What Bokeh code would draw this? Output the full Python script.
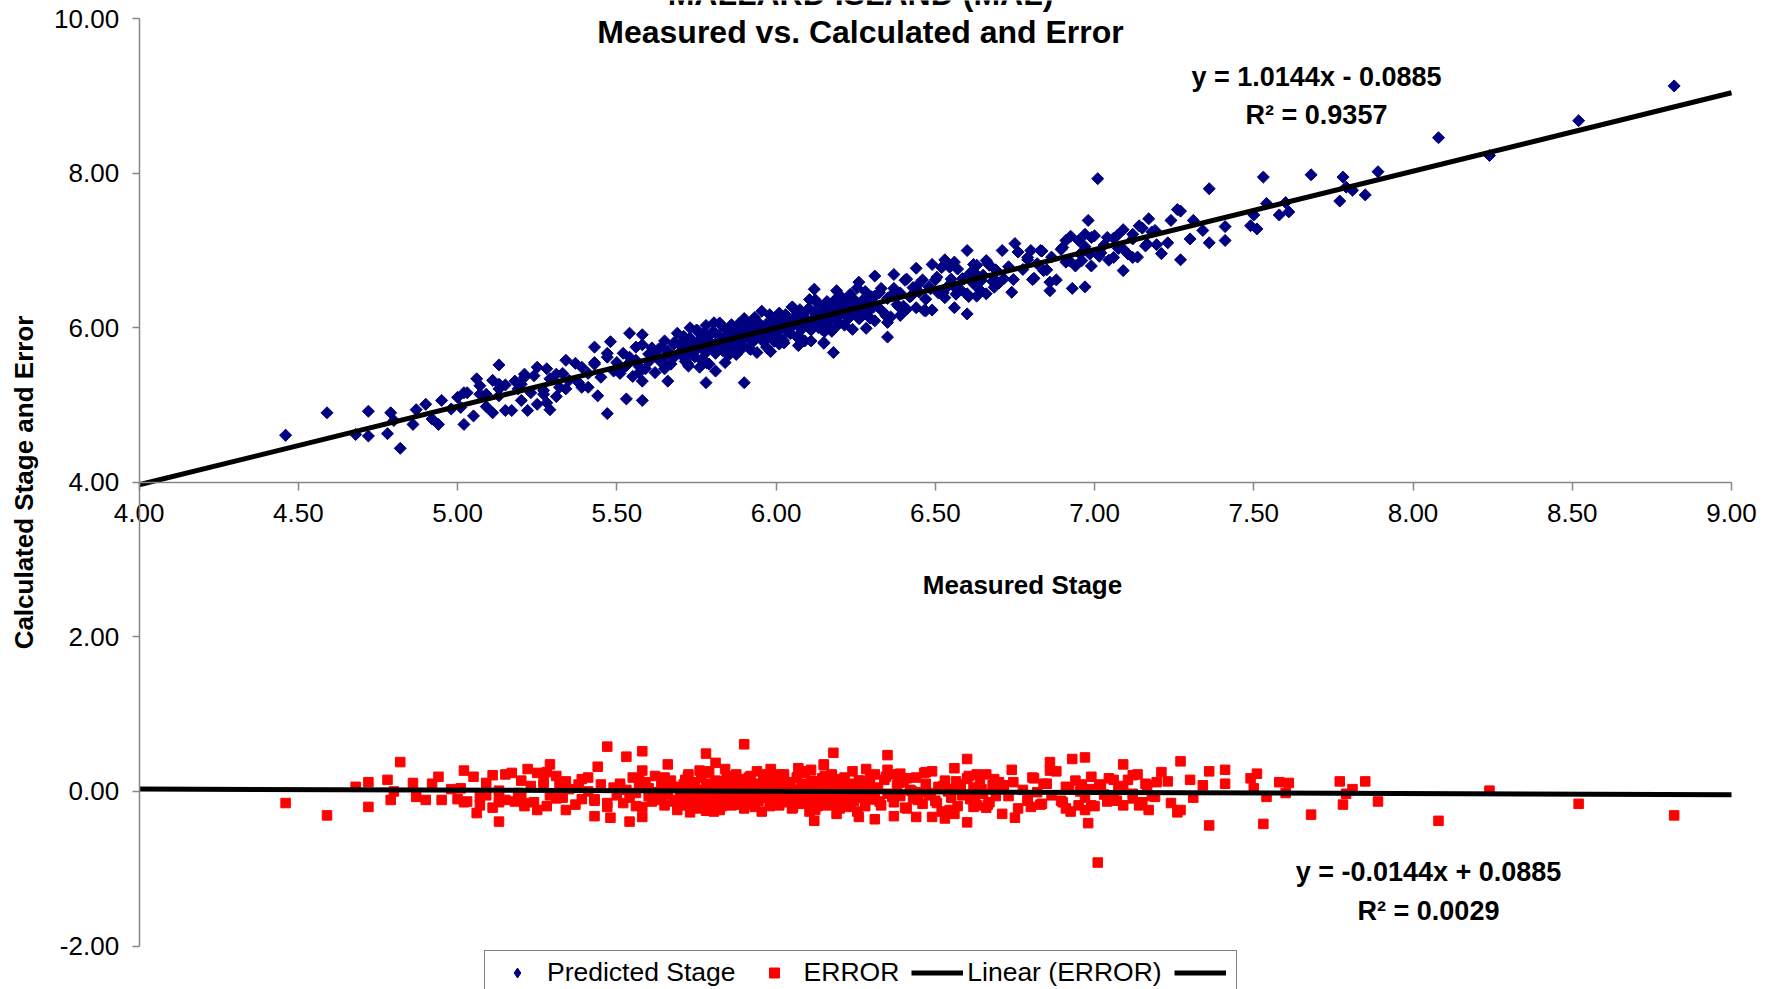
from bokeh.plotting import figure
from bokeh.models import (Range1d, FixedTicker, NumeralTickFormatter, Label,
                          Legend, LegendItem)
from bokeh.embed import file_html
from bokeh.resources import INLINE

# ---------------- data ----------------
TITLE_LINES = ["MALLARD ISLAND (MAL)", "Measured vs. Calculated and Error"]
X_LABEL = "Measured Stage"
Y_LABEL = "Calculated Stage and Error"
SERIES_NAMES = ["Predicted Stage", "ERROR", "Linear (ERROR)", " "]
X_TICKS = [4.0, 4.5, 5.0, 5.5, 6.0, 6.5, 7.0, 7.5, 8.0, 8.5, 9.0]
Y_TICKS = [-2.0, 0.0, 2.0, 4.0, 6.0, 8.0, 10.0]
TREND_PRED = [1.0144, -0.0885]   # slope, intercept (shown on chart)
TREND_ERR = [-0.0144, 0.0885]
EQ_PRED = ["y = 1.0144x - 0.0885", "R\u00b2 = 0.9357"]
EQ_ERR = ["y = -0.0144x + 0.0885", "R\u00b2 = 0.0029"]

# (measured stage, predicted stage) pairs
STAGE_PAIRS = [
    (4.46, 4.61), (4.59, 4.90), (4.72, 4.92), (4.68, 4.62), (4.72, 4.60), (4.78, 4.63),
    (4.79, 4.90), (4.82, 4.44), (4.80, 4.80), (4.86, 4.75), (4.87, 4.94), (4.90, 5.01),
    (4.92, 4.82), (4.94, 4.75), (4.95, 5.06), (4.98, 4.95), (5.00, 5.10), (5.02, 5.16),
    (5.02, 4.75), (5.06, 5.34), (5.07, 5.25), (5.09, 5.14), (5.11, 4.90), (5.13, 5.52),
    (5.13, 5.27), (5.15, 4.93), (5.13, 5.21), (5.18, 5.31), (5.20, 5.27), (5.21, 5.40),
    (5.20, 5.06), (5.22, 4.93), (5.24, 5.38), (5.25, 5.01), (5.27, 5.19), (5.28, 5.47),
    (5.28, 5.03), (5.29, 4.94), (5.31, 5.40), (5.32, 5.23), (5.34, 5.58), (5.34, 5.21),
    (5.38, 5.29), (5.39, 5.49), (5.41, 5.23), (5.43, 5.75), (5.43, 5.53), (5.44, 5.12),
    (5.47, 4.89), (5.48, 5.82), (5.47, 5.62), (5.51, 5.44), (5.53, 5.08), (5.54, 5.93),
    (5.58, 5.91), (5.56, 5.75), (5.58, 5.06), (5.57, 5.42), (5.58, 5.31), (5.64, 5.75),
    (5.66, 5.31), (5.65, 5.47), (5.68, 5.81), (5.71, 5.62), (5.73, 6.00), (5.76, 5.49),
    (5.78, 5.29), (5.78, 6.03), (5.81, 5.44), (5.84, 5.55), (5.90, 5.29), (5.87, 5.70),
    (5.92, 5.72), (5.97, 5.75), (6.01, 5.79), (6.07, 5.77), (6.11, 5.83), (6.15, 5.81),
    # 5.0 - 5.5 band
    (5.01, 4.97), (5.03, 5.16), (5.05, 4.86), (5.07, 5.14), (5.09, 4.98), (5.11, 5.32),
    (5.13, 5.12), (5.15, 5.26), (5.17, 4.93), (5.19, 5.21), (5.21, 5.36), (5.23, 5.16),
    (5.25, 5.49), (5.27, 5.14), (5.29, 5.34), (5.31, 5.11), (5.33, 5.41), (5.35, 5.32),
    (5.37, 5.54), (5.39, 5.23), (5.41, 5.41), (5.43, 5.55), (5.45, 5.36), (5.47, 5.67),
    (5.49, 5.44),
    # 5.5 - 5.7 band
    (5.50, 5.55), (5.51, 5.41), (5.52, 5.67), (5.53, 5.51), (5.54, 5.62), (5.55, 5.37),
    (5.56, 5.58), (5.57, 5.50), (5.58, 5.78), (5.59, 5.47), (5.60, 5.66), (5.60, 5.56),
    (5.61, 5.74), (5.62, 5.42), (5.62, 5.63), (5.63, 5.72), (5.64, 5.55), (5.65, 5.83),
    (5.65, 5.62), (5.66, 5.70), (5.67, 5.53), (5.68, 5.79), (5.68, 5.62), (5.69, 5.93),
    (5.70, 5.69), (5.70, 5.77),
    # 5.7 - 6.3 dense band
    (5.700, 5.800), (5.705, 5.655), (5.710, 5.890), (5.715, 5.565), (5.720, 5.750),
    (5.725, 5.505), (5.730, 5.870), (5.735, 5.655), (5.740, 5.800), (5.745, 5.625),
    (5.750, 5.970), (5.755, 5.735), (5.760, 5.850), (5.765, 5.585), (5.770, 5.780),
    (5.775, 5.935), (5.780, 5.680), (5.785, 5.835), (5.790, 5.530), (5.795, 5.915),
    (5.800, 5.740), (5.805, 6.065), (5.810, 5.670), (5.815, 5.815), (5.820, 5.900),
    (5.825, 5.795), (5.830, 6.020), (5.835, 5.745), (5.840, 5.880), (5.845, 5.675),
    (5.850, 5.950), (5.855, 5.805), (5.860, 6.040), (5.865, 5.715), (5.870, 5.900),
    (5.875, 5.655), (5.880, 6.020), (5.885, 5.805), (5.890, 5.950), (5.895, 5.775),
    (5.900, 6.120), (5.905, 5.885), (5.910, 6.000), (5.915, 5.735), (5.920, 5.930),
    (5.925, 6.085), (5.930, 5.830), (5.935, 5.985), (5.940, 5.680), (5.945, 6.065),
    (5.950, 5.890), (5.955, 6.215), (5.960, 5.820), (5.965, 5.965), (5.970, 6.050),
    (5.975, 5.945), (5.980, 6.170), (5.985, 5.895), (5.990, 6.030), (5.995, 5.825),
    (6.000, 6.100), (6.005, 5.955), (6.010, 6.190), (6.015, 5.865), (6.020, 6.050),
    (6.025, 5.805), (6.030, 6.170), (6.035, 5.955), (6.040, 6.100), (6.045, 5.925),
    (6.050, 6.270), (6.055, 6.035), (6.060, 6.150), (6.065, 5.885), (6.070, 6.080),
    (6.075, 6.235), (6.080, 5.980), (6.085, 6.135), (6.090, 5.830), (6.095, 6.215),
    (6.100, 6.040), (6.105, 6.365), (6.110, 5.970), (6.115, 6.115), (6.120, 6.200),
    (6.125, 6.095), (6.130, 6.320), (6.135, 6.045), (6.140, 6.180), (6.145, 5.975),
    (6.150, 6.250), (6.155, 6.105), (6.160, 6.340), (6.165, 6.015), (6.170, 6.200),
    (6.175, 5.955), (6.180, 6.320), (6.185, 6.105), (6.190, 6.250), (6.195, 6.075),
    (6.200, 6.420), (6.205, 6.185), (6.210, 6.300), (6.215, 6.035), (6.220, 6.230),
    (6.225, 6.385), (6.230, 6.130), (6.235, 6.285), (6.240, 5.980), (6.245, 6.365),
    (6.250, 6.190), (6.255, 6.515), (6.260, 6.120), (6.265, 6.265), (6.270, 6.350),
    (6.275, 6.245), (6.280, 6.470), (6.285, 6.195), (6.290, 6.330), (6.295, 6.125),
    (6.300, 6.400),
    (5.703, 5.663), (5.713, 5.843), (5.723, 5.533), (5.733, 5.803), (5.743, 5.633),
    (5.753, 5.963), (5.763, 5.753), (5.773, 5.883), (5.783, 5.543), (5.793, 5.813),
    (5.803, 5.953), (5.813, 5.743), (5.823, 6.063), (5.833, 5.703), (5.843, 5.893),
    (5.853, 5.653), (5.863, 5.943), (5.873, 5.843), (5.883, 6.053), (5.893, 5.733),
    (5.903, 5.903), (5.913, 6.033), (5.923, 5.833), (5.933, 6.133), (5.943, 5.893),
    (5.953, 6.023), (5.963, 5.823), (5.973, 6.003), (5.983, 5.693), (5.993, 6.093),
    (6.003, 5.963), (6.013, 6.143), (6.023, 5.833), (6.033, 6.103), (6.043, 5.933),
    (6.053, 6.263), (6.063, 6.053), (6.073, 6.183), (6.083, 5.843), (6.093, 6.113),
    (6.103, 6.253), (6.113, 6.043), (6.123, 6.363), (6.133, 6.003), (6.143, 6.193),
    (6.153, 5.953), (6.163, 6.243), (6.173, 6.143), (6.183, 6.353), (6.193, 6.033),
    (6.203, 6.203), (6.213, 6.333), (6.223, 6.133), (6.233, 6.433), (6.243, 6.193),
    (6.253, 6.323), (6.263, 6.123), (6.273, 6.303), (6.283, 5.993), (6.293, 6.393),
    # 6.3 - 6.7 band
    (6.31, 6.41), (6.32, 6.27), (6.33, 6.51), (6.34, 6.19), (6.35, 6.38), (6.36, 6.14),
    (6.37, 6.51), (6.38, 6.30), (6.39, 6.45), (6.40, 6.28), (6.41, 6.63), (6.42, 6.40),
    (6.43, 6.52), (6.44, 6.26), (6.45, 6.46), (6.46, 6.62), (6.47, 6.37), (6.48, 6.53),
    (6.49, 6.23), (6.50, 6.62), (6.51, 6.45), (6.52, 6.78), (6.53, 6.39), (6.54, 6.54),
    (6.55, 6.63), (6.56, 6.53), (6.57, 6.76), (6.58, 6.49), (6.59, 6.63), (6.60, 6.43),
    (6.61, 6.71), (6.62, 6.57), (6.63, 6.81), (6.64, 6.49), (6.65, 6.68), (6.66, 6.44),
    (6.67, 6.81), (6.68, 6.60), (6.69, 6.75), (6.70, 6.58),
    (6.305, 6.265), (6.325, 6.455), (6.345, 6.155), (6.365, 6.435), (6.385, 6.275),
    (6.405, 6.615), (6.425, 6.415), (6.445, 6.555), (6.465, 6.225), (6.485, 6.505),
    (6.505, 6.655), (6.525, 6.455), (6.545, 6.785), (6.565, 6.435), (6.585, 6.635),
    (6.605, 6.405), (6.625, 6.705), (6.645, 6.615), (6.665, 6.835), (6.685, 6.525),
    # 6.7 - 7.2 band
    (6.715, 6.635), (6.730, 6.790), (6.745, 6.625), (6.760, 6.980), (6.775, 6.755),
    (6.790, 6.880), (6.805, 6.625), (6.820, 6.830), (6.835, 6.995), (6.850, 6.750),
    (6.865, 6.915), (6.880, 6.620), (6.895, 7.015), (6.910, 6.850), (6.925, 7.185),
    (6.940, 6.800), (6.955, 6.955), (6.970, 7.050), (6.985, 6.955), (7.000, 7.190),
    (7.015, 6.925), (7.030, 7.070), (7.045, 6.875), (7.060, 7.160), (7.075, 7.025),
    (7.090, 7.270), (7.105, 6.955), (7.120, 7.150), (7.135, 6.915), (7.150, 7.290),
    (7.165, 7.085), (7.180, 7.240), (7.195, 7.075),
    # individually read points 6.1 - 7.3
    (6.18, 5.68), (6.15, 5.80), (6.35, 5.88), (6.35, 6.07), (6.31, 6.09), (6.39, 6.16),
    (6.41, 6.24), (6.47, 6.22), (6.60, 6.18), (6.56, 6.26), (6.63, 6.41), (6.60, 6.44),
    (6.74, 6.46), (6.81, 6.64), (6.86, 6.59), (6.86, 6.48), (6.93, 6.51), (6.97, 6.53),
    (6.99, 6.80), (7.09, 6.74), (6.60, 7.00), (6.53, 6.88), (6.56, 6.85), (6.49, 6.82),
    (6.44, 6.77), (6.37, 6.69), (6.31, 6.67), (6.26, 6.59), (6.19, 6.48), (6.12, 6.50),
    (6.75, 7.09), (6.71, 7.00), (6.66, 6.87), (6.69, 6.61), (6.62, 6.82), (6.80, 7.00),
    (6.83, 7.00), (6.79, 6.91), (6.84, 6.74), (6.91, 7.13), (6.95, 7.13), (6.90, 7.04),
    (6.92, 6.87), (6.96, 6.87), (6.97, 7.21), (6.98, 7.39), (6.99, 7.17), (7.02, 6.97),
    (7.04, 7.17), (7.06, 6.91), (7.07, 7.19), (7.09, 7.02), (7.12, 7.21), (7.12, 6.91),
    (7.14, 7.32), (7.16, 7.06), (7.17, 7.41), (7.19, 7.26), (7.21, 6.96), (7.23, 7.10),
    (7.24, 7.39), (7.26, 7.53), (7.01, 7.93),
    # upper tail
    (7.27, 7.51), (7.27, 6.88), (7.31, 7.39), (7.30, 7.15), (7.34, 7.26), (7.36, 7.80),
    (7.36, 7.10), (7.41, 7.31), (7.41, 7.13), (7.49, 7.32), (7.51, 7.28), (7.50, 7.46),
    (7.53, 7.95), (7.54, 7.61), (7.58, 7.46), (7.60, 7.62), (7.61, 7.50), (7.68, 7.98),
    (7.77, 7.64), (7.78, 7.95), (7.79, 7.82), (7.81, 7.78), (7.85, 7.72), (7.89, 8.02),
    (8.08, 8.46), (8.24, 8.23), (8.52, 8.68), (8.82, 9.13),
]

MEASURED_STAGE = [m for m, _ in STAGE_PAIRS]
PREDICTED_STAGE = [c for _, c in STAGE_PAIRS]
# ERROR series of the source sheet = measured - predicted
ERROR = [round(m - c, 3) for m, c in STAGE_PAIRS]

# ---------------- layout (page pixels; the frame covers the whole canvas) ----------------
W, H = 1781, 989
X_AXIS_PX = (138.6, 1731.0)   # page x of x = 4 and x = 9
Y_AXIS_PX = (18.2, 945.5)     # page y of y = 10 and y = -2
SX = (X_AXIS_PX[1] - X_AXIS_PX[0]) / (X_TICKS[-1] - X_TICKS[0])
SY = (Y_AXIS_PX[1] - Y_AXIS_PX[0]) / (Y_TICKS[-1] - Y_TICKS[0])
FONT = "Liberation Sans"
AXIS_GRAY = "#868686"
NAVY = "#000080"
RED = "#FF0000"


def dx(px):
    return X_TICKS[0] + (px - X_AXIS_PX[0]) / SX


def dy(py):
    return Y_TICKS[-1] - (py - Y_AXIS_PX[0]) / SY


p = figure(width=W, height=H, output_backend="svg", toolbar_location=None,
           x_range=Range1d(dx(0), dx(W)), y_range=Range1d(dy(H), dy(0)),
           min_border=0, min_border_left=0, min_border_right=0,
           min_border_top=0, min_border_bottom=0)
p.outline_line_color = None
p.grid.visible = False
p.background_fill_color = "white"
p.border_fill_color = "white"

# x axis crossing at y = 4, y axis at x = 4
xa = p.xaxis[0]
xa.fixed_location = Y_TICKS[3]
xa.bounds = (X_TICKS[0], X_TICKS[-1])
xa.ticker = FixedTicker(ticks=X_TICKS)
xa.formatter = NumeralTickFormatter(format="0.00")
xa.major_tick_out = 8
xa.major_tick_in = 0
xa.minor_tick_line_color = None
xa.axis_line_color = AXIS_GRAY
xa.axis_line_width = 1.5
xa.major_tick_line_color = AXIS_GRAY
xa.major_tick_line_width = 1.5
xa.major_label_text_font = FONT
xa.major_label_text_font_size = "26px"
xa.major_label_text_color = "black"
xa.major_label_standoff = 14

ya = p.yaxis[0]
ya.fixed_location = X_TICKS[0]
ya.bounds = (Y_TICKS[0], Y_TICKS[-1])
ya.ticker = FixedTicker(ticks=Y_TICKS)
ya.formatter = NumeralTickFormatter(format="0.00")
ya.major_tick_out = 7
ya.major_tick_in = 0
ya.minor_tick_line_color = None
ya.axis_line_color = AXIS_GRAY
ya.axis_line_width = 1.5
ya.major_tick_line_color = AXIS_GRAY
ya.major_tick_line_width = 1.5
ya.major_label_text_font = FONT
ya.major_label_text_font_size = "26px"
ya.major_label_text_color = "black"
ya.major_label_standoff = 13
ya.axis_label = Y_LABEL
ya.axis_label_text_font = FONT
ya.axis_label_text_font_size = "26px"
ya.axis_label_text_font_style = "bold"
ya.axis_label_text_color = "black"
ya.axis_label_standoff = 12

r_pred = p.scatter(MEASURED_STAGE, PREDICTED_STAGE, marker="square", size=8.5,
                   angle=0.7853981634, color=NAVY)
r_err = p.scatter(MEASURED_STAGE, ERROR, marker="square", size=9.5, color=RED)

TREND_X = [X_TICKS[0], X_TICKS[-1]]
r_lin_pred = p.line(TREND_X, [TREND_PRED[0] * x + TREND_PRED[1] for x in TREND_X],
                    line_color="black", line_width=5)
r_lin_err = p.line(TREND_X, [TREND_ERR[0] * x + TREND_ERR[1] for x in TREND_X],
                   line_color="black", line_width=5)

# legend swatch for the diamond markers: the first data point drawn again as a
# diamond (it sits inside its own rotated-square marker)
r_pred_key = p.scatter(MEASURED_STAGE[:1], PREDICTED_STAGE[:1], marker="diamond",
                       size=12, color=NAVY)

legend = Legend(items=[LegendItem(label=SERIES_NAMES[0], renderers=[r_pred_key]),
                       LegendItem(label=SERIES_NAMES[1], renderers=[r_err]),
                       LegendItem(label=SERIES_NAMES[2], renderers=[r_lin_err]),
                       LegendItem(label=SERIES_NAMES[3], renderers=[r_lin_pred])],
                orientation="horizontal", location=(484, H - 995),
                border_line_color="black", border_line_width=1,
                background_fill_color="white", background_fill_alpha=1.0,
                label_text_font=FONT, label_text_font_size="26.5px",
                label_text_color="black",
                glyph_width=52, glyph_height=25, label_height=30, label_width=0,
                label_standoff=4, spacing=12, padding=6, margin=0)
p.add_layout(legend)


def add_text(txt, px, py, size, bold=True, bg=None):
    lab = Label(x=dx(px), y=dy(py), text=txt, text_align="center",
                text_baseline="middle", text_font=FONT, text_font_size=size,
                text_font_style="bold" if bold else "normal", text_color="black",
                background_fill_color=bg)
    p.add_layout(lab)


add_text(TITLE_LINES[0], 860, -7, "32px")
add_text(TITLE_LINES[1], 860, 31, "32px")
add_text(X_LABEL, 1022, 584, "26px")
add_text(EQ_PRED[0], 1316, 76, "27px", bg="white")
add_text(EQ_PRED[1], 1316, 114, "27px", bg="white")
add_text(EQ_ERR[0], 1428, 871, "27px")
add_text(EQ_ERR[1], 1428, 910, "27px")

open("out.html", "w").write(file_html(p, INLINE))
